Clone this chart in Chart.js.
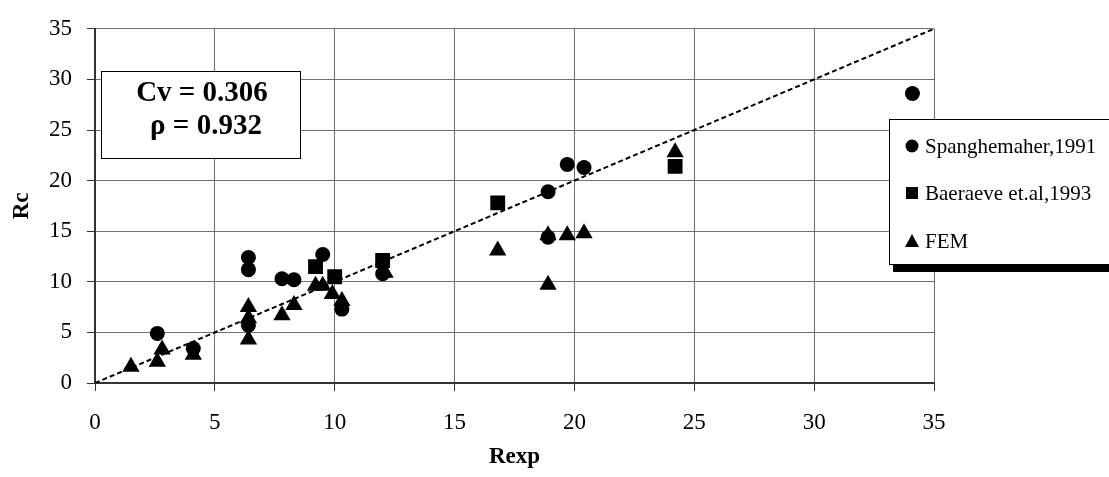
<!DOCTYPE html>
<html><head><meta charset="utf-8">
<script src="https://cdn.jsdelivr.net/npm/chart.js@4.4.0/dist/chart.umd.min.js"></script>
<style>html,body{margin:0;padding:0;background:#fff;}canvas{display:block;}</style>
</head><body>
<canvas id="c" width="1109" height="477"></canvas>
<script>
const axisTicks = [0, 5, 10, 15, 20, 25, 30, 35];
const seriesNames = ['Spanghemaher,1991', 'Baeraeve et.al,1993', 'FEM'];

const spangX = [2.6, 4.1, 6.4, 6.4, 6.4, 7.8, 8.3, 9.5, 10.3, 12.0, 18.9, 19.7, 20.4, 18.9, 34.1];
const spangY = [4.9, 3.4, 12.4, 11.2, 5.7, 10.3, 10.2, 12.7, 7.3, 10.8, 18.9, 21.6, 21.3, 14.4, 28.6];

const baerX = [9.2, 10.0, 12.0, 16.8, 24.2];
const baerY = [11.5, 10.5, 12.1, 17.8, 21.4];

const femX = [1.5, 2.6, 2.8, 4.1, 6.4, 6.4, 6.4, 7.8, 8.3, 9.2, 9.5, 9.9, 10.3, 12.1, 16.8, 18.9, 18.9, 19.7, 20.4, 24.2];
const femY = [1.6, 2.1, 3.3, 2.8, 7.5, 6.4, 4.3, 6.7, 7.7, 9.6, 9.6, 8.8, 8.1, 10.9, 13.1, 14.6, 9.7, 14.6, 14.8, 22.8];

const refLineX = [0, 35];
const refLineY = [0, 35];

const statLines = ['Cv = 0.306', '\u03C1 = 0.932'];

const pts = (xs, ys) => xs.map((x, i) => ({x: x, y: ys[i]}));
const SERIF = 'Liberation Serif';

const overlay = {
  id: 'overlay',
  afterDraw(chart) {
    const ctx = chart.ctx;
    ctx.save();
    // stats text box
    ctx.fillStyle = '#fff';
    ctx.fillRect(101, 71, 199, 87);
    ctx.strokeStyle = '#000';
    ctx.lineWidth = 1;
    ctx.strokeRect(101.5, 71.5, 199, 87);
    ctx.fillStyle = '#000';
    ctx.font = 'bold 29px "' + SERIF + '"';
    ctx.textAlign = 'center';
    ctx.textBaseline = 'middle';
    ctx.fillText(statLines[0], 202, 94);
    ctx.fillText(statLines[1], 206, 127);

    // legend with shadow
    ctx.fillStyle = '#000';
    ctx.fillRect(893, 265, 1109 - 893, 7);
    ctx.fillStyle = '#fff';
    ctx.fillRect(889, 119, 240, 146);
    ctx.strokeStyle = '#000';
    ctx.lineWidth = 1;
    ctx.strokeRect(889.5, 119.5, 240, 145);
    const ys = [146, 193, 241];
    const mx = 912;
    ctx.fillStyle = '#000';
    ctx.beginPath(); ctx.arc(mx, ys[0], 6.5, 0, Math.PI * 2); ctx.fill();
    ctx.fillRect(mx - 6, ys[1] - 6, 12, 12);
    ctx.beginPath();
    ctx.moveTo(mx, ys[2] - 7); ctx.lineTo(mx + 7, ys[2] + 6); ctx.lineTo(mx - 7, ys[2] + 6); ctx.closePath(); ctx.fill();
    ctx.font = '21px "' + SERIF + '"';
    ctx.textAlign = 'left';
    ctx.textBaseline = 'middle';
    seriesNames.forEach((n, i) => ctx.fillText(n, 925, ys[i] + 1));
    ctx.restore();
  }
};

const tickFont = {family: SERIF, size: 23};
const titleFont = {family: SERIF, size: 23, weight: 'bold'};

new Chart(document.getElementById('c'), {
  type: 'scatter',
  data: {
    datasets: [
      {label: 'y=x', data: pts(refLineX, refLineY), showLine: true, borderColor: '#000', borderWidth: 2,
       borderDash: [5, 3], pointRadius: 0, fill: false, order: 10},
      {label: seriesNames[0], data: pts(spangX, spangY), pointStyle: 'circle', pointRadius: 7.5,
       backgroundColor: '#000', borderColor: '#000', borderWidth: 0, order: 1},
      {label: seriesNames[1], data: pts(baerX, baerY), pointStyle: 'rect', pointRadius: 10.5,
       backgroundColor: '#000', borderColor: '#000', borderWidth: 0, order: 1},
      {label: seriesNames[2], data: pts(femX, femY), pointStyle: 'triangle', pointRadius: 10,
       backgroundColor: '#000', borderColor: '#000', borderWidth: 0, order: 1}
    ]
  },
  options: {
    responsive: false,
    animation: false,
    layout: {padding: {top: 20, right: 175, left: 0, bottom: 0}},
    plugins: {legend: {display: false}, tooltip: {enabled: false}},
    scales: {
      x: {
        type: 'linear', min: 0, max: 35,
        afterBuildTicks: s => { s.ticks = axisTicks.map(v => ({value: v})); },
        grid: {color: '#707070', lineWidth: 1, tickLength: 8, tickColor: '#333'},
        border: {color: '#333', width: 2},
        ticks: {font: tickFont, color: '#000', padding: 18, maxRotation: 0},
        title: {display: true, text: 'Rexp', font: titleFont, color: '#000', padding: {top: 0, bottom: 6}},
        afterFit: s => { s.height = 94; }
      },
      y: {
        type: 'linear', min: 0, max: 35,
        afterBuildTicks: s => { s.ticks = axisTicks.map(v => ({value: v})); },
        grid: {color: '#707070', lineWidth: 1, tickLength: 8, tickColor: '#333'},
        border: {color: '#333', width: 2},
        ticks: {font: tickFont, color: '#000', padding: 15},
        title: {display: true, text: 'Rc', font: titleFont, color: '#000', padding: {top: 8, bottom: 0}},
        afterFit: s => { s.width = 95; }
      }
    }
  },
  plugins: [overlay]
});
</script>
</body></html>
